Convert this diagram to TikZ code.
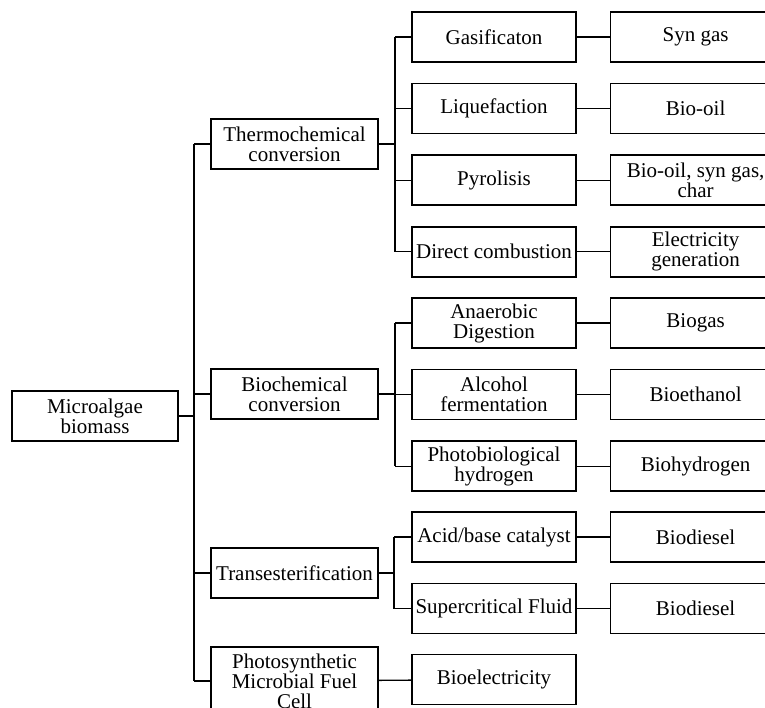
\documentclass[tikz,border=0pt]{standalone}
\usepackage{fontspec}
\setmainfont{Liberation Serif}
\usetikzlibrary{positioning}
\begin{document}
\begin{tikzpicture}[x=1pt,y=-1pt]
		\tikzstyle{box}=[rectangle, draw=black, line width=1.6pt, align=center, inner sep=0pt, minimum height=50pt, font=\fontsize{21}{20}\selectfont]
		\tikzstyle{main}=[box, minimum width=167pt]
		\tikzstyle{proc}=[box, minimum width=164pt, node distance=20pt]
		\tikzstyle{prod}=[box, minimum width=170pt, node distance=33pt]
		\tikzstyle{connect}=[line width=1.3pt]
		\useasboundingbox (0,0) rectangle (765,708);
		\clip (0,0) rectangle (765,708);
		
		\node[box, minimum width=166pt] (root) at (95,416) {Microalgae\\biomass};
		
		\node[main] (thermo) at (294.5,144) {Thermochemical\\conversion};
		\node[main] (bioch)  at (294.5,394) {Biochemical\\conversion};
		\node[main] (trans)  at (294.5,573) {Transesterification};
		\node[main, minimum height=68pt] (pmfc) at (294.5,681) {Photosynthetic\\Microbial Fuel\\Cell};
		
		\node[proc] (gas) at (494,37) {Gasificaton};
		\node[proc] (liq) [below=of gas] {Liquefaction};
		\node[proc] (pyr) [below=of liq] {Pyrolisis};
		\node[proc] (dc)  [below=of pyr] {Direct combustion};
		
		\node[proc] (ad)  at (494,323) {Anaerobic\\Digestion};
		\node[proc] (af)  [below=of ad] {Alcohol\\fermentation};
		\node[proc] (ph)  [below=of af] {Photobiological\\hydrogen};
		
		\node[proc] (abc) at (494,537) {Acid/base catalyst};
		\node[proc] (scf) [below=of abc] {Supercritical Fluid};
		
		\node[proc] (elec) at (494,679.5) {Bioelectricity};
		
		\node[prod] (syn)  [right=of gas] {Syn gas};
		\node[prod] (oil)  [right=of liq] {Bio-oil};
		\node[prod] (mix)  [right=of pyr] {Bio-oil, syn gas,\\char};
		\node[prod] (gen)  [right=of dc]  {Electricity\\generation};
		\node[prod] (bgas) [right=of ad]  {Biogas};
		\node[prod] (beth) [right=of af]  {Bioethanol};
		\node[prod] (bhyd) [right=of ph]  {Biohydrogen};
		\node[prod] (bd1)  [right=of abc] {Biodiesel};
		\node[prod] (bd2)  [right=of scf] {Biodiesel};
		
		\coordinate (trunk) at (194,416);
		\coordinate (tbr) at (395,144);
		\coordinate (bbr) at (395,394);
		\coordinate (rbr) at (394,573);
		
		% main trunk
		\draw[connect] (root) -- (trunk);
		\draw[connect] (trunk |- thermo) -- (trunk |- pmfc);
		\foreach \n in {thermo, bioch, trans, pmfc}
			\draw[connect] (trunk |- \n) -- (\n);
		
		% second level
		\draw[connect] (thermo) -- (tbr);
		\draw[connect] (tbr |- gas) -- (tbr |- dc);
		\foreach \n in {gas, liq, pyr, dc}
			\draw[connect] (tbr |- \n) -- (\n);
		
		\draw[connect] (bioch) -- (bbr);
		\draw[connect] (bbr |- ad) -- (bbr |- ph);
		\foreach \n in {ad, af, ph}
			\draw[connect] (bbr |- \n) -- (\n);
		
		\draw[connect] (trans) -- (rbr);
		\draw[connect] (rbr |- abc) -- (rbr |- scf);
		\foreach \n in {abc, scf}
			\draw[connect] (rbr |- \n) -- (\n);
		
		\draw[connect] (pmfc) -- (elec);
		
		\path
		(gas) edge [connect] (syn)
		(liq) edge [connect] (oil)
		(pyr) edge [connect] (mix)
		(dc)  edge [connect] (gen)
		(ad)  edge [connect] (bgas)
		(af)  edge [connect] (beth)
		(ph)  edge [connect] (bhyd)
		(abc) edge [connect] (bd1)
		(scf) edge [connect] (bd2)
		;
		
\end{tikzpicture}
\end{document}
